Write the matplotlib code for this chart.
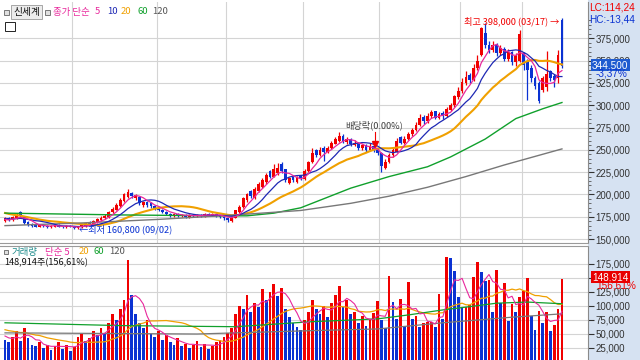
import matplotlib
matplotlib.use("Agg")
import matplotlib.pyplot as plt
from matplotlib.patches import Rectangle
import numpy as np

plt.rcParams['font.family'] = ['Liberation Sans', 'DejaVu Sans']
KR = ['Noto Sans CJK KR', 'DejaVu Sans']

# Daily candles, prices in thousand won (Aug .. 03/17)
opens = [170, 174, 171, 173, 180, 175, 169, 166, 166, 164,
         166, 165, 163, 164, 166, 164, 163, 165, 164, 162,
         163, 165, 169, 166, 169, 171, 173, 175, 180, 183,
         187, 193, 197, 202, 196, 197, 188, 192, 190, 187,
         185, 183, 180, 178, 176, 178, 176, 177, 175, 177,
         176, 177, 176, 178, 177, 178, 176, 175, 173, 170,
         174, 180, 186, 194, 204, 196, 204, 208, 214, 226,
         220, 224, 234, 228, 213, 219, 214, 221, 217, 226,
         236, 250, 244, 252, 247, 252, 257, 260, 266, 259,
         262, 255, 258, 252, 255, 250, 254, 250, 246, 230,
         236, 244, 248, 264, 258, 262, 268, 272, 278, 287,
         282, 288, 293, 286, 291, 288, 295, 300, 309, 316,
         325, 334, 328, 342, 356, 381, 368, 362, 368, 358,
         363, 352, 360, 348, 350, 358, 350, 342, 330, 325,
         317, 320, 338, 333, 330, 396]
closes = [173, 171, 175, 177, 176, 168, 166, 165, 164, 166,
          165, 163, 165, 166, 164, 163, 165, 164, 162, 163,
          166, 168, 167, 170, 172, 174, 176, 180, 184, 188,
          194, 200, 203, 198, 199, 190, 191, 188, 187, 184,
          183, 180, 178, 177, 178, 176, 177, 175, 177, 176,
          177, 176, 178, 177, 178, 176, 175, 173, 171, 175,
          182, 186, 196, 200, 198, 206, 212, 216, 222, 220,
          228, 230, 226, 216, 218, 216, 219, 218, 226, 236,
          246, 244, 250, 247, 252, 258, 262, 266, 260, 262,
          256, 258, 252, 255, 250, 253, 250, 246, 232, 236,
          244, 250, 260, 258, 262, 268, 272, 278, 286, 282,
          288, 292, 286, 290, 288, 296, 300, 310, 316, 326,
          332, 328, 342, 350, 386, 367, 362, 368, 358, 364,
          352, 360, 348, 355, 380, 345, 340, 330, 322, 305,
          330, 335, 330, 328, 356.5, 344.5]
highs = [175, 175, 176, 179, 181, 176, 170, 168, 167, 167,
         167, 166, 166, 167, 167, 165, 166, 166, 165, 165,
         167, 169, 170, 171, 173, 176, 178, 181, 186, 190,
         196, 202, 206, 203, 201, 198, 193, 193, 191, 188,
         186, 184, 181, 179, 179, 179, 178, 178, 178, 178,
         178, 178, 179, 179, 179, 179, 177, 176, 174, 176,
         183, 188, 197, 202, 205, 208, 214, 218, 224, 227,
         234, 235, 236, 229, 220, 221, 221, 222, 228, 238,
         252, 251, 253, 254, 254, 260, 264, 270, 268, 264,
         263, 261, 259, 257, 256, 258, 256, 252, 247, 240,
         246, 252, 263, 266, 265, 270, 275, 281, 290, 289,
         291, 295, 294, 292, 293, 298, 303, 312, 320, 330,
         338, 336, 346, 356, 388, 392, 372, 372, 370, 367,
         365, 363, 361, 358, 384, 360, 352, 345, 333, 327,
         333, 361, 340, 335, 362, 398]
lows = [169, 170, 170, 172, 175, 167, 165, 164, 163, 163,
        164, 162, 162, 163, 163, 162, 162, 163, 161, 160.8,
        162, 164, 166, 165, 168, 170, 172, 174, 179, 182,
        186, 192, 196, 196, 194, 188, 186, 186, 185, 182,
        181, 179, 177, 175, 175, 175, 175, 174, 174, 175,
        175, 175, 175, 176, 176, 175, 174, 171, 169, 169,
        173, 179, 185, 192, 196, 195, 203, 207, 212, 218,
        219, 222, 224, 214, 212, 214, 213, 216, 216, 225,
        235, 242, 243, 238, 246, 251, 256, 259, 258, 257,
        254, 254, 250, 250, 248, 249, 248, 244, 225, 228,
        235, 242, 247, 256, 257, 261, 266, 271, 277, 279,
        280, 286, 284, 284, 285, 287, 293, 298, 307, 314,
        323, 325, 327, 340, 355, 364, 358, 360, 355, 356,
        350, 350, 345, 344, 348, 340, 306, 326, 318, 302,
        315, 316, 327, 320, 325, 342]
# 19 sessions before the window (seed for the short averages)
hist_close = [192, 190, 188, 189, 186, 185, 184, 182, 180, 178,
              176, 175, 173, 172, 174, 173, 171, 172, 170]

# Volume, thousand shares
volumes = [40, 35, 45, 55, 38, 60, 42, 30, 28, 35,
           25, 30, 22, 28, 35, 24, 30, 20, 26, 45,
           50, 38, 42, 55, 48, 60, 52, 70, 85, 75,
           95, 110, 182, 120, 85, 70, 60, 75, 50, 45,
           55, 40, 48, 35, 30, 42, 28, 33, 25, 30,
           38, 27, 32, 24, 29, 35, 40, 45, 52, 60,
           85, 100, 95, 120, 90, 105, 98, 130, 110, 125,
           140, 118, 132, 95, 80, 70, 62, 58, 75, 90,
           110, 95, 85, 100, 80, 105, 120, 135, 98, 110,
           85, 90, 70, 82, 65, 75, 88, 109, 75, 61,
           154, 107, 77, 112, 64, 143, 77, 82, 63, 70,
           71, 72, 63, 121, 77, 188, 185, 162, 116, 96,
           98, 102, 152, 178, 160, 145, 146, 89, 164, 105,
           141, 73, 104, 89, 116, 127, 150, 82, 57, 91,
           70, 89, 55, 66, 95, 148.914]
hist_vol = [70, 65, 80, 60, 55, 75, 62, 58, 50, 66,
            72, 48, 55, 60, 45, 52, 50, 42, 48]

# long averages (index, value)
ma60_idx = [0, 30, 55, 63, 70, 77, 90, 100, 110, 116, 125, 133, 140, 145]
ma60_val = [179, 177, 176, 176, 179, 185, 207, 220, 231, 242, 262, 285, 296, 303]
ma120_idx = [0, 20, 40, 60, 77, 90, 100, 110, 120, 130, 140, 145]
ma120_val = [165, 168, 172, 177, 182, 190, 198, 208, 220, 233, 245, 251]
vma60_idx = [0, 30, 60, 80, 97, 105, 114, 120, 128, 136, 145]
vma60_val = [70, 65, 63, 72, 77, 84, 93, 98, 105, 107, 104]
vma120_idx = [0, 50, 80, 97, 114, 132, 145]
vma120_val = [52, 50, 56, 59, 70, 80, 86]

month_lines = [17.5, 39.5, 57.5, 77.5, 97.5, 118.5, 134.5]
price_ticks = [150, 175, 200, 225, 250, 275, 300, 325, 350, 375]
vol_ticks = [25, 50, 75, 100, 125, 150, 175]

RED = '#f00000'
BLUE = '#0a32d2'
C_MA5 = '#e8289c'
C_MA10 = '#1e28b4'
C_MA20 = '#f0a000'
C_MA60 = '#10a02c'
C_MA120 = '#787878'
GRID = '#d4d4d4'


def sma(hist, vals, n):
    s = np.array(hist + vals, dtype=float)
    out = np.convolve(s, np.ones(n) / n, mode='valid')
    return out[-len(vals):]


n = len(closes)
idx = np.arange(n)
o = np.array(opens, dtype=float)
c = np.array(closes, dtype=float)
up = c >= o
ccol = [RED if u else BLUE for u in up]

fig = plt.figure(figsize=(6.4, 3.6), dpi=100)
fig.patch.set_facecolor('white')
# light blue scale area on the right (behind the axes' tick labels)
fig.patches.append(Rectangle((588 / 640, 0), 52 / 640, 1, transform=fig.transFigure,
                             facecolor='#d6e2f2', edgecolor='none', zorder=-5))

xl = (-5 / 3.841, 583 / 3.841)

# ---- price panel
ax = fig.add_axes([0, 117 / 360, 588 / 640, 241 / 360])
ax.set_zorder(2)
ax.set_xlim(xl)
ax.set_ylim(145.52, 415.7)
for m in month_lines:
    ax.axvline(m, color=GRID, lw=0.8, zorder=0)
for t in price_ticks:
    ax.axhline(t, color=GRID, lw=0.8, zorder=0)

ax.vlines(idx, lows, highs, colors=ccol, lw=0.9, zorder=2)
body = np.where(np.abs(c - o) < 0.3, 0.3, c - o)
ax.bar(idx, body, bottom=o, width=0.72, color=ccol, edgecolor='none', zorder=2)

ax.plot(idx, sma(hist_close, closes, 20), color=C_MA20, lw=1.5, zorder=3)
ax.plot(ma60_idx, ma60_val, color=C_MA60, lw=1.0, zorder=3)
ax.plot(ma120_idx, ma120_val, color=C_MA120, lw=1.0, zorder=3)
ax.plot(idx, sma(hist_close, closes, 10), color=C_MA10, lw=0.9, zorder=3)
ax.plot(idx, sma(hist_close, closes, 5), color=C_MA5, lw=0.9, zorder=3)

ax.yaxis.tick_right()
ax.set_yticks(price_ticks)
ax.set_yticklabels([f'{t * 1000:,}' for t in price_ticks])
ax.set_yticks(np.arange(150, 400, 5), minor=True)
ax.tick_params(axis='y', which='major', direction='out', length=4, pad=1.5,
               labelsize=7, colors='#333333')
ax.tick_params(axis='y', which='minor', direction='out', length=2, colors='#555555')
ax.set_xticks([])
for s in ['left', 'top']:
    ax.spines[s].set_visible(False)
ax.spines['right'].set_color('#8a8a8a')
ax.spines['bottom'].set_color('#9a9a9a')

# annotations
ax.text(144.3, 394.5, '최고 398,000 (03/17) →', color=RED, ha='right', va='center',
        fontsize=6.6, family=KR, zorder=5)
ax.text(19.3, 161.2, '←최저 160,800 (09/02)', color=BLUE, ha='left', va='center',
        fontsize=6.6, family=KR, zorder=5)
ax.text(96, 277, '배당락(0.00%)', color='#404040', ha='center', va='center',
        fontsize=6.6, family=KR, zorder=5)
ax.plot([96.2, 96.2], [270, 258], color=RED, lw=0.8, zorder=4)
ax.plot([96.2], [256], marker='v', color=RED, ms=4.5, zorder=4)

# ---- volume panel
axv = fig.add_axes([0, 0, 588 / 640, 114 / 360])
axv.set_zorder(2)
axv.set_xlim(xl)
axv.set_ylim(3.57, 207.1)
for m in month_lines:
    axv.axvline(m, color=GRID, lw=0.8, zorder=0)
for t in vol_ticks:
    axv.axhline(t, color=GRID, lw=0.8, zorder=0)
prev = [hist_vol[-1]] + volumes[:-1]
vcol = [RED if v > p else BLUE for v, p in zip(volumes, prev)]
axv.bar(idx, volumes, width=0.72, color=vcol, edgecolor='none', zorder=2)
axv.plot(idx, sma(hist_vol, volumes, 20), color=C_MA20, lw=0.9, zorder=3)
axv.plot(vma60_idx, vma60_val, color=C_MA60, lw=0.9, zorder=3)
axv.plot(vma120_idx, vma120_val, color=C_MA120, lw=0.9, zorder=3)
axv.plot(idx, sma(hist_vol, volumes, 5), color=C_MA5, lw=0.8, zorder=3)

axv.yaxis.tick_right()
axv.set_yticks(vol_ticks)
axv.set_yticklabels([f'{t * 1000:,}' for t in vol_ticks])
axv.tick_params(axis='y', direction='out', length=4, pad=1.5, labelsize=7, colors='#333333')
axv.set_xticks([])
for s in ['left', 'bottom']:
    axv.spines[s].set_visible(False)
axv.spines['right'].set_color('#8a8a8a')
axv.spines['top'].set_color('#9a9a9a')


def ftext(x, y, s, color, size=6.8, fam=KR, **kw):
    fig.text(x / 640, 1 - y / 360, s, color=color, fontsize=size, family=fam,
             ha='left', va='center', zorder=10, **kw)


def fbox(x, y, w, h, fc, ec):
    fig.patches.append(Rectangle((x / 640, 1 - (y + h) / 360), w / 640, h / 360,
                                 transform=fig.transFigure, facecolor=fc,
                                 edgecolor=ec, lw=0.7, zorder=10))


# header legend (price)
fbox(4, 10, 5, 5, '#e0e0e0', '#777777')
ftext(13, 12, '신세계', '#111111', 7,
      bbox=dict(facecolor='#ececec', edgecolor='#9a9a9a', lw=0.6, pad=1.2))
fbox(45, 10, 5, 5, '#e0e0e0', '#777777')
ftext(53, 12, '종가 단순', C_MA5)
ftext(95, 12, '5', C_MA5)
ftext(107, 12, '10', C_MA10)
ftext(121, 12, '20', C_MA20)
ftext(137, 12, '60', C_MA60)
ftext(152, 12, '120', '#555555')
fbox(5, 22, 10, 9, 'white', '#222222')

# header legend (volume)
fbox(4, 250, 4, 4, '#e0e0e0', '#777777')
ftext(12, 252, '거래량', '#1e8c8c')
ftext(45, 252, '단순 5', C_MA5)
ftext(79, 252, '20', C_MA20)
ftext(94, 252, '60', C_MA60)
ftext(109, 252, '120', '#555555')
ftext(4, 263, '148,914주(156,61%)', '#111111', 6.6)

# right side readouts
ftext(589, 8, 'LC:114,24', RED, 7.2, ['Liberation Sans'])
ftext(589, 20, 'HC:-13,44', BLUE, 7.2, ['Liberation Sans'])
ftext(592, 65, '344,500', 'white', 7.2, ['Liberation Sans'],
      bbox=dict(facecolor='#1f5cd0', edgecolor='none', pad=1.0))
ftext(596, 74, '-3,37%', BLUE, 7.2, ['Liberation Sans'])
ftext(592, 277, '148,914', 'white', 7.2, ['Liberation Sans'],
      bbox=dict(facecolor='#e80000', edgecolor='none', pad=1.0))
ftext(596, 285, '156,61%', RED, 7.2, ['Liberation Sans'])

fig.savefig('out.png', dpi=100)
